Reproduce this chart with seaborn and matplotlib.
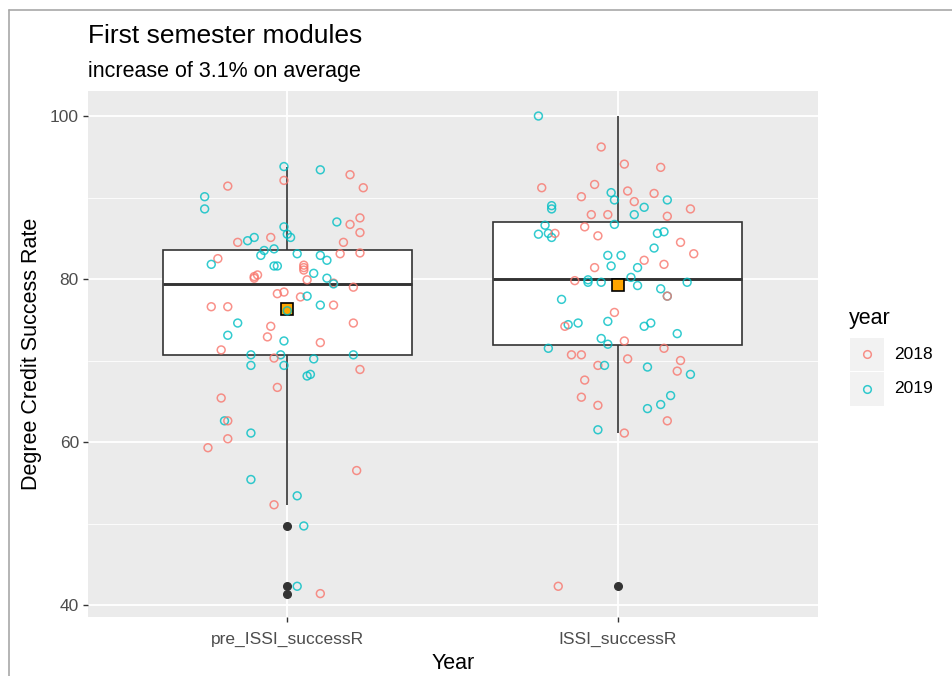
import matplotlib
matplotlib.use('Agg')
import matplotlib.pyplot as plt
from matplotlib.lines import Line2D
from matplotlib.patches import Rectangle
from matplotlib.ticker import MultipleLocator
import pandas as pd
import numpy as np
import seaborn as sns

# values, per module: rate, year, horizontal jitter
pre_rate = [93.8, 93.4, 92.8, 92.1, 91.4, 91.2, 90.1, 88.6, 87.0, 86.7, 87.5, 86.4, 85.5, 85.1,
            85.7, 84.5, 84.7, 85.1, 85.1, 84.5, 83.5, 83.7, 82.9, 83.1, 82.9, 82.3, 83.1, 83.2,
            82.5, 81.8, 81.6, 81.6, 81.7, 81.4, 81.1, 80.7, 80.5, 80.3, 80.1, 79.9, 80.1, 79.5,
            79.4, 79.0, 78.2, 78.4, 77.8, 77.9, 76.6, 76.6, 76.8, 76.8, 76.1, 74.6, 74.6, 74.2,
            73.1, 72.9, 72.4, 72.2, 71.3, 70.7, 70.7, 70.7, 70.3, 70.2, 69.4, 69.4, 68.9, 68.3,
            68.1, 66.7, 65.4, 62.6, 62.6, 61.1, 60.4, 59.3, 56.5, 55.4, 53.4, 52.3, 49.7, 42.3, 41.4]
pre_year = "ccrrrrcccrrcccrrccrrccccccrrrcccrrrcrrrrcrcrrrrcrrcrccrrcrcrrcccrcccrccrrcrcrrrccrcc r".replace(" ", "")
pre_dx = [-0.01, 0.10, 0.19, -0.01, -0.18, 0.23, -0.25, -0.25, 0.15, 0.19, 0.22, -0.01, 0.00, 0.01,
          0.22, -0.15, -0.12, -0.10, -0.05, 0.17, -0.07, -0.04, -0.08, 0.03, 0.10, 0.12, 0.16, 0.22,
          -0.21, -0.23, -0.04, -0.03, 0.05, 0.05, 0.05, 0.08, -0.09, -0.10, -0.10, 0.06, 0.12, 0.14,
          0.14, 0.20, -0.03, -0.01, 0.04, 0.06, -0.23, -0.18, 0.10, 0.14, 0.00, -0.15, 0.20, -0.05,
          -0.18, -0.06, -0.01, 0.10, -0.20, -0.11, -0.02, 0.20, -0.04, 0.08, -0.11, -0.01, 0.22, 0.07,
          0.06, -0.03, -0.20, -0.19, -0.18, -0.11, -0.18, -0.24, 0.21, -0.11, 0.03, -0.04, 0.05, 0.03, 0.10]

issi_rate = [100.0, 96.2, 94.1, 93.7, 91.2, 91.6, 90.6, 90.8, 90.5, 90.1, 89.7, 89.5, 89.7, 89.0,
             88.6, 88.8, 88.6, 87.9, 87.9, 87.9, 87.7, 86.6, 86.7, 86.4, 85.5, 85.6, 85.1, 85.6,
             85.3, 85.6, 85.8, 84.5, 83.8, 83.1, 82.9, 82.9, 82.3, 81.8, 81.4, 81.6, 81.4, 80.2,
             79.8, 79.6, 79.9, 79.6, 79.2, 78.8, 79.6, 77.9, 77.9, 77.5, 75.9, 74.4, 74.2, 74.6,
             74.8, 74.2, 74.6, 73.3, 72.7, 72.0, 72.4, 71.5, 71.5, 70.7, 70.7, 70.2, 70.0, 69.4,
             69.4, 69.2, 68.7, 68.3, 67.6, 65.5, 65.7, 64.5, 64.6, 64.1, 62.6, 61.5, 61.1, 42.3]
issi_year = "crrrrrcrrrcrcccc rrrcrccrcccrrccrcrccrrrcccrcccccccrcrcrcccccccrcrrrrrrccrcrrcrccrcrr".replace(" ", "")
issi_dx = [-0.24, -0.05, 0.02, 0.13, -0.23, -0.07, -0.02, 0.03, 0.11, -0.11, -0.01, 0.05, 0.15, -0.20,
           -0.20, 0.08, 0.22, -0.08, -0.03, 0.05, 0.15, -0.22, -0.01, -0.10, -0.24, -0.21, -0.20, -0.19,
           -0.06, 0.12, 0.14, 0.19, 0.11, 0.23, -0.03, 0.01, 0.08, 0.14, -0.07, -0.02, 0.06, 0.04,
           -0.13, -0.09, -0.09, -0.05, 0.06, 0.13, 0.21, 0.15, 0.15, -0.17, -0.01, -0.15, -0.16, -0.12,
           -0.03, 0.08, 0.10, 0.18, -0.05, -0.03, 0.02, -0.21, 0.14, -0.14, -0.11, 0.03, 0.19, -0.06,
           -0.04, 0.09, 0.18, 0.22, -0.10, -0.11, 0.16, -0.06, 0.13, 0.09, 0.15, -0.06, 0.02, -0.18]

modules = ['pre_ISSI_successR', 'ISSI_successR']
years = ['2018', '2019']
year_colors = {'2018': '#F8766D', '2019': '#00BFC4'}

code = {'r': '2018', 'c': '2019'}
df = pd.DataFrame({
    'module': [modules[0]] * len(pre_rate) + [modules[1]] * len(issi_rate),
    'rate': pre_rate + issi_rate,
    'year': [code[c] for c in pre_year] + [code[c] for c in issi_year],
    'dx': pre_dx + issi_dx,
})
df['xpos'] = df['module'].map({m: i for i, m in enumerate(modules)}) + df['dx']

sns.set_theme(style='darkgrid')
plt.rcParams['font.family'] = ['Liberation Sans', 'DejaVu Sans']
plt.rcParams['axes.facecolor'] = '#EBEBEB'
plt.rcParams['text.color'] = 'black'

fig = plt.figure(figsize=(9.52, 6.76), dpi=100)
fig.patch.set_facecolor('white')
ax = fig.add_axes([88 / 952, 1 - 617 / 676, 730 / 952, 526 / 676])

sns.boxplot(data=df, x='module', y='rate', order=modules, width=0.755, ax=ax,
            color='white', linecolor='#333333', linewidth=1.2, showcaps=False,
            showmeans=True,
            meanprops=dict(marker='s', markerfacecolor='#FFA500', markeredgecolor='black',
                           markersize=8, markeredgewidth=1.2, zorder=4),
            medianprops=dict(color='#333333', linewidth=2.1),
            flierprops=dict(marker='o', markerfacecolor='#333333', markeredgecolor='#333333',
                            markersize=5.5))
for p in ax.patches:
    p.set_zorder(2)
for l in ax.lines:
    if l.get_zorder() < 3:
        l.set_zorder(2.5)

sns.scatterplot(data=df, x='xpos', y='rate', hue='year', hue_order=years, palette=year_colors,
                ax=ax, facecolor='none', marker='o', s=32, linewidth=1.1, alpha=0.8,
                legend=False, zorder=5)
# open circles: make edges take the hue colour
coll = ax.collections[-1]
coll.set_edgecolors([year_colors[y] for y in df['year']])
coll.set_facecolors('none')

ax.set_xlim(-0.603, 1.606)
ax.set_ylim(38.53, 103.07)
ax.yaxis.set_major_locator(MultipleLocator(20))
ax.yaxis.set_minor_locator(MultipleLocator(10))
ax.set_xticks([0, 1])
ax.set_xticklabels(modules)
ax.grid(which='major', color='white', linewidth=1.3)
ax.grid(which='minor', axis='y', color='white', linewidth=0.6)
ax.set_axisbelow(True)
for s in ax.spines.values():
    s.set_visible(False)
ax.tick_params(axis='both', which='major', length=3.5, width=1.0, color='#333333',
               labelsize=12.5, labelcolor='#4D4D4D', pad=3, bottom=True, left=True)
ax.tick_params(axis='x', pad=7)
ax.tick_params(which='minor', length=0)
ax.set_xlabel('Year', fontsize=15.5, color='black', labelpad=4.5)
ax.set_ylabel('Degree Credit Success Rate', fontsize=15.5, color='black', labelpad=6)

fig.text(88 / 952, 1 - 42.7 / 676, 'First semester modules', fontsize=19, va='baseline', ha='left')
fig.text(88 / 952, 1 - 77.3 / 676, 'increase of 3.1% on average', fontsize=15.5, va='baseline', ha='left')

# legend drawn ggplot-style
fig.text(849 / 952, 1 - 318 / 676, 'year', fontsize=15.5, va='center', ha='left')
for i, y in enumerate(years):
    top = 337.7 + i * 34.5
    fig.add_artist(Rectangle((850 / 952, 1 - (top + 33.5) / 676), 33.5 / 952, 33.5 / 676,
                             transform=fig.transFigure, facecolor='#F2F2F2', edgecolor='none'))
    fig.add_artist(Line2D([866.5 / 952], [1 - (top + 16.7) / 676], transform=fig.transFigure,
                          marker='o', markerfacecolor='none', markeredgecolor=year_colors[y],
                          markeredgewidth=1.1, markersize=5.5, alpha=0.8, linestyle='none'))
    fig.text(894 / 952, 1 - (top + 16.7) / 676, y, fontsize=12.5, va='center', ha='left')

# viewer frame
fig.add_artist(Line2D([9 / 952, 1], [1 - 10 / 676, 1 - 10 / 676], transform=fig.transFigure,
                      color='#A8A8A8', linewidth=1.2))
fig.add_artist(Line2D([9 / 952, 9 / 952], [0, 1 - 10 / 676], transform=fig.transFigure,
                      color='#A8A8A8', linewidth=1.2))

fig.savefig('out.png', dpi=100)
